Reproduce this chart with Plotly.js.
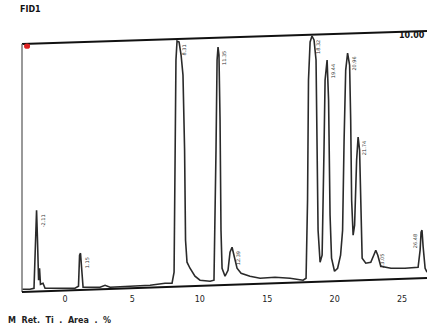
<!DOCTYPE html>
<html>
<head>
<meta charset="utf-8">
<script src="https://cdn.plot.ly/plotly-3.0.1.min.js"></script>
<style>html,body{margin:0;padding:0;background:#fff;}#chart{width:427px;height:327px;}</style>
</head>
<body>
<div id="chart"></div>
<script>
// Retention time (min) and detector signal
var retTime = [-3.19,-2.60,-2.30,-2.19,-2.11,-2.04,-1.96,-1.89,-1.82,-1.63,-1.48,-0.37,0.74,1.00,1.08,1.15,1.22,1.34,2.60,2.97,3.34,4.82,6.31,7.42,7.94,8.09,8.16,8.23,8.31,8.46,8.61,8.75,8.87,8.94,9.05,9.27,9.64,10.01,10.76,11.05,11.20,11.28,11.35,11.42,11.50,11.57,11.65,11.87,12.09,12.24,12.39,12.54,12.76,13.06,13.72,14.47,15.58,16.69,17.66,17.88,17.99,18.06,18.18,18.32,18.47,18.62,18.69,18.77,18.92,19.07,19.21,19.29,19.44,19.55,19.66,19.77,19.99,20.22,20.44,20.59,20.70,20.82,20.96,21.11,21.19,21.26,21.37,21.48,21.63,21.74,21.85,21.93,22.04,22.31,22.68,22.90,23.05,23.20,23.42,24.18,25.22,26.19,26.34,26.41,26.48,26.56,26.71,26.85];
var signal = [0,0,0.4,23.6,31.6,19.6,3.6,8.4,2,2.4,0.4,0.4,0.4,1.2,13.6,14.4,7.6,0.8,0.8,1.6,0.8,1.2,1.6,2.4,2.4,6.8,55.6,91.6,99.2,98.8,93.6,85.6,55.6,19.6,10.8,8.4,5.2,3.6,3.2,3.6,55.6,91.6,96.8,93.6,67.6,23.6,8.4,5.2,7.6,14.8,16.8,13.2,8.4,6.4,5.2,4.4,4.8,4.4,3.6,4.4,35.6,83.6,98.8,101.2,99.6,91.6,67.6,23.6,10.8,13.6,55.6,83.6,91.6,75.6,29.6,12.4,7.2,8.4,13.6,23.6,59.6,87.6,94.4,89.6,67.6,35.6,21.6,25.6,51.6,60.8,55.6,31.6,12.4,10.4,10.8,13.6,15.6,13.6,9.2,8.4,8.4,8.8,15.6,22.8,23.6,17.2,8.4,6.8];
// Apex retention times of labelled peaks
var peakTimes = [-2.11,1.15,8.31,11.35,12.39,18.32,19.44,20.96,21.74,23.05,26.48];
var peakHeights = [31.6,14.4,99.2,96.8,16.8,101.2,91.6,94.4,60.8,15.6,23.6];
var tickVals = [0,5,10,15,20,25];
var tickText = ['0','5','10','15','20','25'];

var trace = {
  x: retTime, y: signal, type: 'scatter', mode: 'lines',
  line: {color: '#2a2a2a', width: 1.6, shape: 'linear'},
  hoverinfo: 'skip', showlegend: false, cliponaxis: false
};

var ann = peakTimes.map(function(t, i){
  var nearRight = t > 25.5;
  return {x: t, y: peakHeights[i], xref: 'x', yref: 'y', text: t.toFixed(2),
    showarrow: false, xanchor: nearRight ? 'right' : 'left', yanchor: 'top',
    xshift: nearRight ? -2 : 1, yshift: -2,
    textangle: -90, font: {family: 'DejaVu Sans', size: 5, color: '#333'}};
});
ann.push({xref:'paper', yref:'paper', x:-0.01, y:1.075, xanchor:'left', yanchor:'middle',
  text:'<b>FID1</b>', showarrow:false, font:{family:'DejaVu Sans', size:8, color:'#111'}});
ann.push({xref:'paper', yref:'paper', x:1.0, y:0.975, xanchor:'right', yanchor:'middle',
  text:'<b>10.00</b>', showarrow:false, font:{family:'DejaVu Sans', size:8, color:'#111'}});
ann.push({xref:'paper', yref:'paper', x:-0.04, y:-0.105, xanchor:'left', yanchor:'middle',
  text:'<b>M  Ret.  Ti  .  Area  .  %</b>', showarrow:false, font:{family:'DejaVu Sans', size:8, color:'#222'}});

var layout = {
  width: 427, height: 327,
  margin: {l: 22, r: 0, t: 29, b: 34},
  paper_bgcolor: '#fff', plot_bgcolor: '#fff',
  xaxis: {range: [-3.19, 26.85], showgrid: false, zeroline: false, showline: false,
    tickmode: 'array', tickvals: tickVals, ticktext: tickText, ticks: '',
    tickfont: {family: 'DejaVu Sans', size: 8, color: '#222'}},
  yaxis: {range: [-1.5, 104], showgrid: false, zeroline: false, showline: false,
    showticklabels: false, ticks: ''},
  shapes: [
    {type:'line', xref:'paper', yref:'paper', x0:0, y0:0.943, x1:1, y1:0.992, line:{color:'#111', width:2}},
    {type:'line', xref:'paper', yref:'paper', x0:0, y0:0.943, x1:0, y1:0.004, line:{color:'#777', width:1.5}},
    {type:'line', xref:'paper', yref:'paper', x0:0, y0:0.004, x1:1, y1:0.057, line:{color:'#111', width:2}},
    {type:'circle', xref:'paper', yref:'paper', x0:0.005, y0:0.925, x1:0.02, y1:0.945, fillcolor:'#d22', line:{color:'#d22', width:0}}
  ],
  annotations: ann
};

Plotly.newPlot('chart', [trace], layout, {displayModeBar: false, staticPlot: true});
</script>
</body>
</html>
